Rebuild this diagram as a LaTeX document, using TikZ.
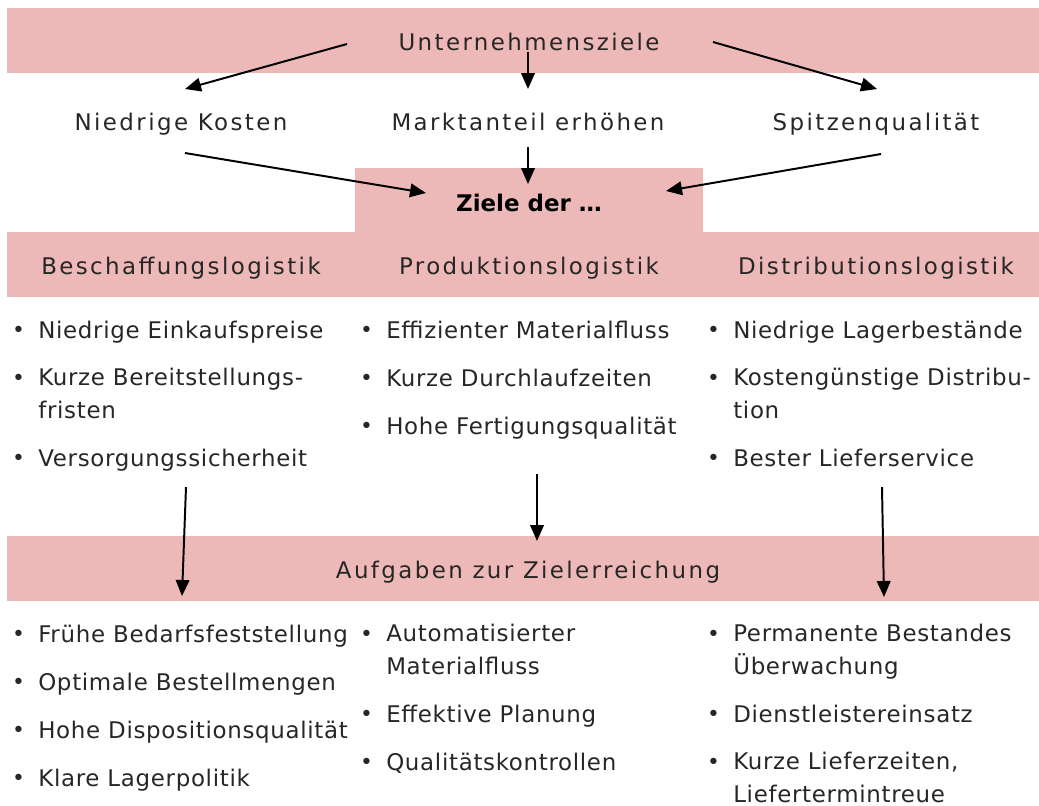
\documentclass[tikz,border=0pt]{standalone}
\usepackage{fontspec}
\setmainfont{DejaVu Sans}[LetterSpace=3]
\newfontfamily\headfont{DejaVu Sans}[LetterSpace=10.5]
\newfontfamily\zielfont{DejaVu Sans}
\usetikzlibrary{arrows.meta}
\definecolor{bandpink}{RGB}{237,184,184}
\definecolor{textgray}{RGB}{38,38,38}
\newcommand{\bul}{\llap{\raisebox{0.02em}{\scalebox{0.95}{\textbullet}}\hspace{0.33cm}}}
\tikzset{
arrowMe/.style={-{Triangle[length=0.4cm,width=0.34cm]}, line width=1.4pt}}

\begin{document}
\begin{tikzpicture}[x=0.025cm,y=-0.025cm]
		\tikzset{every node/.style = {font=\fontsize{16.3}{22.8}\selectfont, text=textgray, inner sep=0pt}}
		\tikzset{band/.style = {fill=bandpink}}
		\tikzset{head/.style = {anchor=base, font=\headfont\fontsize{16.3}{22.8}\selectfont}}
		\tikzset{entry/.style = {anchor=base west, align=left}}
		\tikzset{edge/.style = {arrowMe}}

		\useasboundingbox (0,0) rectangle (1039,805);

		% bands
		\fill[band] (7,8) rectangle (1039,73);
		\fill[band] (355,168) rectangle (703,233);
		\fill[band] (7,232) rectangle (1039,297);
		\fill[band] (7,536) rectangle (1039,601);

		% headings
		\node[head] (unt) at (529,50) {Unternehmensziele};
		\node[head] (kosten) at (181,130) {Niedrige Kosten};
		\node[head] (markt) at (528,130) {Marktanteil erhöhen};
		\node[head] (qual) at (876,130) {Spitzenqualität};
		\node[anchor=base, text=black, font=\zielfont\fontsize{16.3}{20}\selectfont\bfseries] (ziele) at (529,211) {Ziele der \dots};
		\node[head] (besch) at (181,274) {Beschaffungslogistik};
		\node[head] (prod) at (529,274) {Produktionslogistik};
		\node[head] (dist) at (876,274) {Distributionslogistik};
		\node[head] (aufg) at (528,578) {Aufgaben zur Zielerreichung};

		% goals (two-line entries sit on their last line)
		\node[entry] (b1) at (38,338) {\bul Niedrige Einkaufspreise};
		\node[entry] (b2) at (38,418) {\bul Kurze Bereitstellungs-\\fristen};
		\node[entry] (b3) at (38,466) {\bul Versorgungssicherheit};
		\node[entry] (p1) at (386,338) {\bul Effizienter Materialfluss};
		\node[entry] (p2) at (386,386) {\bul Kurze Durchlaufzeiten};
		\node[entry] (p3) at (386,434) {\bul Hohe Fertigungsqualität};
		\node[entry] (d1) at (733,338) {\bul Niedrige Lagerbestände};
		\node[entry] (d2) at (733,418) {\bul Kostengünstige Distribu-\\tion};
		\node[entry] (d3) at (733,466) {\bul Bester Lieferservice};

		% tasks
		\node[entry] (ba1) at (38,642) {\bul Frühe Bedarfsfeststellung};
		\node[entry] (ba2) at (38,690) {\bul Optimale Bestellmengen};
		\node[entry] (ba3) at (38,738) {\bul Hohe Dispositionsqualität};
		\node[entry] (ba4) at (38,786) {\bul Klare Lagerpolitik};
		\node[entry] (pa1) at (386,674) {\bul Automatisierter\\Materialfluss};
		\node[entry] (pa2) at (386,722) {\bul Effektive Planung};
		\node[entry] (pa3) at (386,770) {\bul Qualitätskontrollen};
		\node[entry] (da1) at (733,674) {\bul Permanente Bestandes\\Überwachung};
		\node[entry] (da2) at (733,722) {\bul Dienstleistereinsatz};
		\node[entry] (da3) at (733,802) {\bul Kurze Lieferzeiten,\\Liefertermintreue};

		% arrow ends
		\coordinate (u1) at (347,44);  \coordinate (k1) at (185,89);
		\coordinate (u2) at (528,52);  \coordinate (m1) at (528,89);
		\coordinate (u3) at (713,42);  \coordinate (q1) at (877,89);
		\coordinate (k2) at (185,153); \coordinate (z1) at (426,193);
		\coordinate (m2) at (528,147); \coordinate (z2) at (528,184);
		\coordinate (q2) at (881,154); \coordinate (z3) at (666,191);
		\coordinate (b4) at (186,487); \coordinate (a1) at (182,596);
		\coordinate (p4) at (537,474); \coordinate (a2) at (537,541);
		\coordinate (d4) at (882,487); \coordinate (a3) at (884,597);

		\draw[edge] (u1) to (k1);
		\draw[edge] (u2) to (m1);
		\draw[edge] (u3) to (q1);
		\draw[edge] (k2) to (z1);
		\draw[edge] (m2) to (z2);
		\draw[edge] (q2) to (z3);
		\draw[edge] (b4) to (a1);
		\draw[edge] (p4) to (a2);
		\draw[edge] (d4) to (a3);
	\end{tikzpicture}
\end{document}
